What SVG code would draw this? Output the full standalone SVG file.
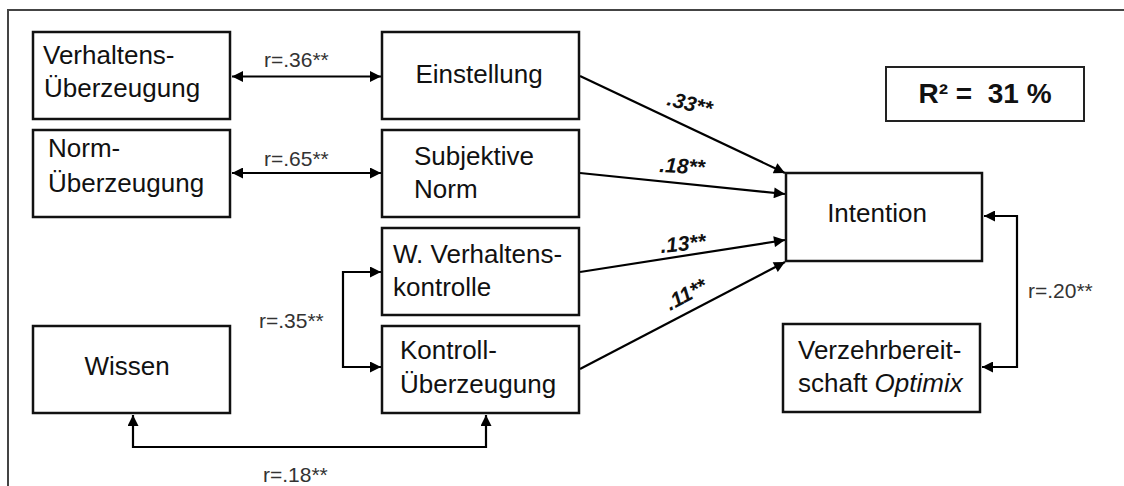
<svg xmlns="http://www.w3.org/2000/svg" width="1124" height="486" viewBox="0 0 1124 486">
  <defs>
    <marker id="arrow" viewBox="0 0 10 10" refX="10" refY="5" markerWidth="13" markerHeight="11" markerUnits="userSpaceOnUse" orient="auto-start-reverse">
      <path d="M0,0 L10,5 L0,10 Z" fill="#000"/>
    </marker>
    <style>
      .box { fill: #fff; stroke: #111; stroke-width: 2.5; }
      .lbl { font-family: "Liberation Sans", Arial, sans-serif; font-size: 26px; fill: #111; }
      .r { font-family: "Liberation Sans", Arial, sans-serif; font-size: 21px; fill: #333; }
      .coef { font-family: "Liberation Sans", Arial, sans-serif; font-size: 21px; font-weight: bold; font-style: italic; fill: #111; }
      .link { fill: none; stroke: #000; stroke-width: 2.2; }
    </style>
  </defs>

  <rect width="1124" height="486" fill="#fff"/>
  <!-- outer frame -->
  <rect x="8" y="10" width="1140" height="500" fill="none" stroke="#444" stroke-width="2"/>

  <!-- connectors -->
  <g id="connectors">
    <line class="link" x1="232" y1="76.5" x2="381" y2="76.5" marker-start="url(#arrow)" marker-end="url(#arrow)"/>
    <line class="link" x1="232" y1="173" x2="381" y2="173" marker-start="url(#arrow)" marker-end="url(#arrow)"/>
    <path class="link" d="M381,272 H343 V367 H381" marker-start="url(#arrow)" marker-end="url(#arrow)"/>
    <path class="link" d="M133,415 V447 H486 V415" marker-start="url(#arrow)" marker-end="url(#arrow)"/>
    <path class="link" d="M984,216 H1017 V367 H982" marker-start="url(#arrow)" marker-end="url(#arrow)"/>
    <line class="link" x1="580" y1="76" x2="785" y2="173" marker-end="url(#arrow)"/>
    <line class="link" x1="580" y1="173" x2="785" y2="194" marker-end="url(#arrow)"/>
    <line class="link" x1="580" y1="272" x2="785" y2="240" marker-end="url(#arrow)"/>
    <line class="link" x1="580" y1="369" x2="785" y2="262" marker-end="url(#arrow)"/>
  </g>

  <!-- connector labels -->
  <g id="labels">
    <text class="r" x="264" y="67">r=.36**</text>
    <text class="r" x="264" y="166">r=.65**</text>
    <text class="r" x="259" y="328">r=.35**</text>
    <text class="r" x="263" y="482">r=.18**</text>
    <text class="r" x="1028" y="298">r=.20**</text>
    <text class="coef" font-size="23" transform="translate(666,105) rotate(14)">.33**</text>
    <text class="coef" transform="translate(659,172) rotate(3)">.18**</text>
    <text class="coef" transform="translate(661,253) rotate(-6)">.13**</text>
    <text class="coef" transform="translate(670,311) rotate(-28)">.11**</text>
  </g>

  <g id="verhaltens-ueberzeugung">
    <rect class="box" x="33" y="32" width="197" height="87"/>
    <text class="lbl" x="43" y="64">Verhaltens-</text>
    <text class="lbl" x="44" y="97">Überzeugung</text>
  </g>
  <g id="norm-ueberzeugung">
    <rect class="box" x="33" y="130" width="197" height="87"/>
    <text class="lbl" x="48" y="157">Norm-</text>
    <text class="lbl" x="48" y="192">Überzeugung</text>
  </g>
  <g id="wissen">
    <rect class="box" x="33" y="326" width="197" height="87"/>
    <text class="lbl" x="127" y="375" text-anchor="middle">Wissen</text>
  </g>
  <g id="einstellung">
    <rect class="box" x="382" y="32" width="197" height="87"/>
    <text class="lbl" x="479" y="83" text-anchor="middle">Einstellung</text>
  </g>
  <g id="subjektive-norm">
    <rect class="box" x="382" y="130" width="197" height="87"/>
    <text class="lbl" x="414" y="165">Subjektive</text>
    <text class="lbl" x="414" y="198">Norm</text>
  </g>
  <g id="w-verhaltenskontrolle">
    <rect class="box" x="382" y="228" width="197" height="87"/>
    <text class="lbl" x="393" y="263">W. Verhaltens-</text>
    <text class="lbl" x="393" y="296">kontrolle</text>
  </g>
  <g id="kontroll-ueberzeugung">
    <rect class="box" x="382" y="326" width="197" height="87"/>
    <text class="lbl" x="400" y="359">Kontroll-</text>
    <text class="lbl" x="400" y="393">Überzeugung</text>
  </g>
  <g id="intention">
    <rect class="box" x="786" y="173" width="196" height="88"/>
    <text class="lbl" x="877" y="222" text-anchor="middle">Intention</text>
  </g>
  <g id="verzehrbereitschaft">
    <rect class="box" x="783" y="324" width="197" height="88"/>
    <text class="lbl" x="798" y="359">Verzehrbereit-</text>
    <text class="lbl" x="798" y="392">schaft <tspan font-style="italic">Optimix</tspan></text>
  </g>
  <g id="r-squared">
    <rect x="886" y="67" width="198" height="54" fill="#fff" stroke="#222" stroke-width="2"/>
    <text x="985" y="103" text-anchor="middle" xml:space="preserve" font-family="'Liberation Sans', Arial, sans-serif" font-size="28" font-weight="bold" fill="#111">R² =  31 %</text>
  </g>
</svg>
